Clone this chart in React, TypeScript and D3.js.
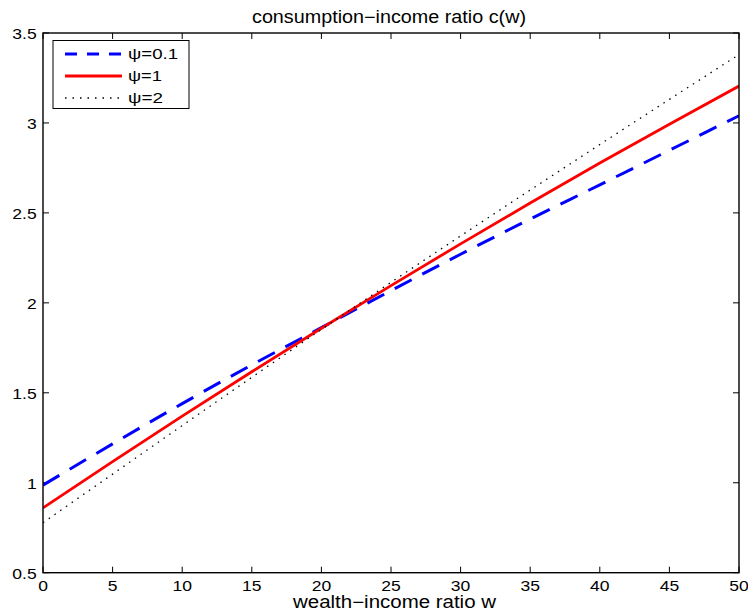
import React from "react";
import * as d3 from "d3";

const wealth = [0, 5, 10, 15, 20, 25, 30, 35, 40, 45, 50];
const psi01 = [0.987, 1.216, 1.44, 1.655, 1.862, 2.068, 2.27, 2.466, 2.656, 2.848, 3.04];
const psi1 = [0.86, 1.117, 1.37, 1.617, 1.859, 2.096, 2.328, 2.555, 2.777, 2.993, 3.205];
const psi2 = [0.778, 1.048, 1.318, 1.586, 1.852, 2.114, 2.372, 2.627, 2.88, 3.131, 3.38];
const xTicks = [0, 5, 10, 15, 20, 25, 30, 35, 40, 45, 50];
const yTicks = [0.5, 1, 1.5, 2, 2.5, 3, 3.5];
const legendLabels = ["ψ=0.1", "ψ=1", "ψ=2"];
const legendWidths = [50, 34, 35];

const W = 748, H = 613;
const L = 43, R = 739, T = 33, B = 572.7;
const font = "'Liberation Sans', Arial, Helvetica, sans-serif";

const numWidth = (s: string) =>
  s.split("").reduce((a, c) => a + (c === "." ? 4.9 : 9.75), 0);

export default function App() {
  const x = d3.scaleLinear().domain([0, 50]).range([L, R]);
  const y = d3.scaleLinear().domain([0.5, 3.5]).range([B, T]);
  const line = (vals: number[]) =>
    d3.line<number>().x((_, i) => x(wealth[i])).y((d) => y(d)).curve(d3.curveMonotoneX)(vals) || "";

  const series = [
    { vals: psi01, color: "#0000ff", width: 3, dash: "19,12", legDash: "12,10" },
    { vals: psi1, color: "#ff0000", width: 2.8, dash: "none", legDash: "none" },
    { vals: psi2, color: "#000000", width: 1.3, dash: "1.5,5.5", legDash: "1.5,6" },
  ];
  const tl = 6;
  return (
    <svg width={W} height={H} style={{ position: "absolute", left: 0, top: 0, background: "#fff" }}>
      <rect x={0} y={0} width={W} height={H} fill="#fff" />
      <text
        x={252}
        y={23}
        textLength={274}
        lengthAdjust="spacingAndGlyphs"
        fontFamily={font}
        fontSize={17.5}
        fill="#000"
      >
        consumption−income ratio c(w)
      </text>
      {xTicks.map((t) => {
        const s = String(t);
        const w = numWidth(s);
        return (
          <g key={"x" + t}>
            <line x1={x(t)} x2={x(t)} y1={B} y2={B - tl} stroke="#000" strokeWidth={1} />
            <line x1={x(t)} x2={x(t)} y1={T} y2={T + tl} stroke="#000" strokeWidth={1} />
            <text
              x={x(t) - w / 2}
              y={591}
              textLength={w}
              lengthAdjust="spacingAndGlyphs"
              fontFamily={font}
              fontSize={14.5}
              fill="#000"
            >
              {s}
            </text>
          </g>
        );
      })}
      {yTicks.map((t) => {
        const s = String(t);
        const w = numWidth(s);
        return (
          <g key={"y" + t}>
            <line x1={L} x2={L + tl} y1={y(t)} y2={y(t)} stroke="#000" strokeWidth={1} />
            <line x1={R} x2={R - tl} y1={y(t)} y2={y(t)} stroke="#000" strokeWidth={1} />
            <text
              x={36.7 - w}
              y={y(t) + 6}
              textLength={w}
              lengthAdjust="spacingAndGlyphs"
              fontFamily={font}
              fontSize={14.5}
              fill="#000"
            >
              {s}
            </text>
          </g>
        );
      })}
      <defs>
        <clipPath id="plotclip">
          <rect x={L} y={T} width={R - L} height={B - T} />
        </clipPath>
      </defs>
      <g clipPath="url(#plotclip)">
        {series.map((s, i) => (
          <path
            key={i}
            d={line(s.vals)}
            fill="none"
            stroke={s.color}
            strokeWidth={s.width}
            strokeDasharray={s.dash}
          />
        ))}
      </g>
      <rect x={L} y={T} width={R - L} height={B - T} fill="none" stroke="#000" strokeWidth={1.4} />
      <rect x={53} y={40.5} width={136} height={68} fill="#fff" stroke="#000" strokeWidth={1} />
      {series.map((s, i) => (
        <g key={"l" + i}>
          <line
            x1={65}
            x2={122}
            y1={54 + i * 22}
            y2={54 + i * 22}
            stroke={s.color}
            strokeWidth={s.width}
            strokeDasharray={s.legDash}
          />
          <text
            x={128}
            y={59 + i * 22}
            textLength={legendWidths[i]}
            lengthAdjust="spacingAndGlyphs"
            fontFamily={font}
            fontSize={14.5}
            fill="#000"
          >
            {legendLabels[i]}
          </text>
        </g>
      ))}
      <text
        x={293}
        y={608}
        textLength={203}
        lengthAdjust="spacingAndGlyphs"
        fontFamily={font}
        fontSize={17.5}
        fill="#000"
      >
        wealth−income ratio w
      </text>
    </svg>
  );
}
